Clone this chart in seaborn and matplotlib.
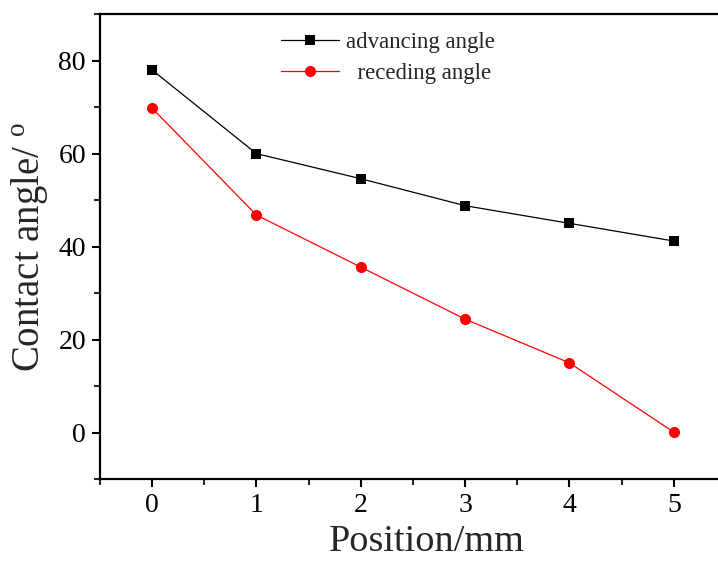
import matplotlib
matplotlib.use("Agg")
import matplotlib.pyplot as plt
import seaborn as sns
from matplotlib.ticker import MultipleLocator

position = [0, 1, 2, 3, 4, 5]
advancing = [78.0, 60.0, 54.6, 48.8, 45.0, 41.2]
receding = [69.8, 46.8, 35.6, 24.4, 15.0, 0.1]

sns.set_style("ticks")
plt.rcParams["font.family"] = ["Liberation Serif", "DejaVu Serif"]
plt.rcParams["mathtext.fontset"] = "custom"
plt.rcParams["mathtext.rm"] = "Liberation Serif"

fig = plt.figure(figsize=(7.18, 5.63), dpi=100)
ax = fig.add_axes([0.139, 0.149, 0.875, 0.826])

sns.lineplot(x=position, y=advancing, ax=ax, color="black", marker="s",
             markersize=7, markeredgewidth=0, linewidth=0.9, label="advancing angle")
sns.lineplot(x=position, y=receding, ax=ax, color="red", marker="o",
             markersize=8, markeredgewidth=0, linewidth=0.9, label="  receding angle")

ax.set_xlim(-0.5, 5.52)
ax.set_ylim(-10, 90)
ax.xaxis.set_major_locator(MultipleLocator(1))
ax.xaxis.set_minor_locator(MultipleLocator(0.5))
ax.yaxis.set_major_locator(MultipleLocator(20))
ax.yaxis.set_minor_locator(MultipleLocator(10))

for side in ["left", "bottom", "top"]:
    ax.spines[side].set_linewidth(1.6)
    ax.spines[side].set_color("black")
ax.spines["right"].set_visible(False)

ax.tick_params(which="major", direction="out", length=6, width=1.5,
               labelsize=20, colors="black", pad=4)
ax.tick_params(which="minor", direction="out", length=4, width=1.5)

ax.set_xlabel("Position/mm", fontsize=27.5)
ax.set_ylabel(r"Contact angle/ $^\mathrm{o}$", fontsize=28)
ax.xaxis.set_label_coords(0.52, -0.097)
ax.yaxis.set_label_coords(-0.078, 0.5)

ax.legend(loc="upper left", bbox_to_anchor=(0.26, 1.0), frameon=False,
          fontsize=16.5, handlelength=2.5, handletextpad=0.3,
          labelspacing=0.4, borderaxespad=0.4)

fig.savefig("out.png", dpi=100)
